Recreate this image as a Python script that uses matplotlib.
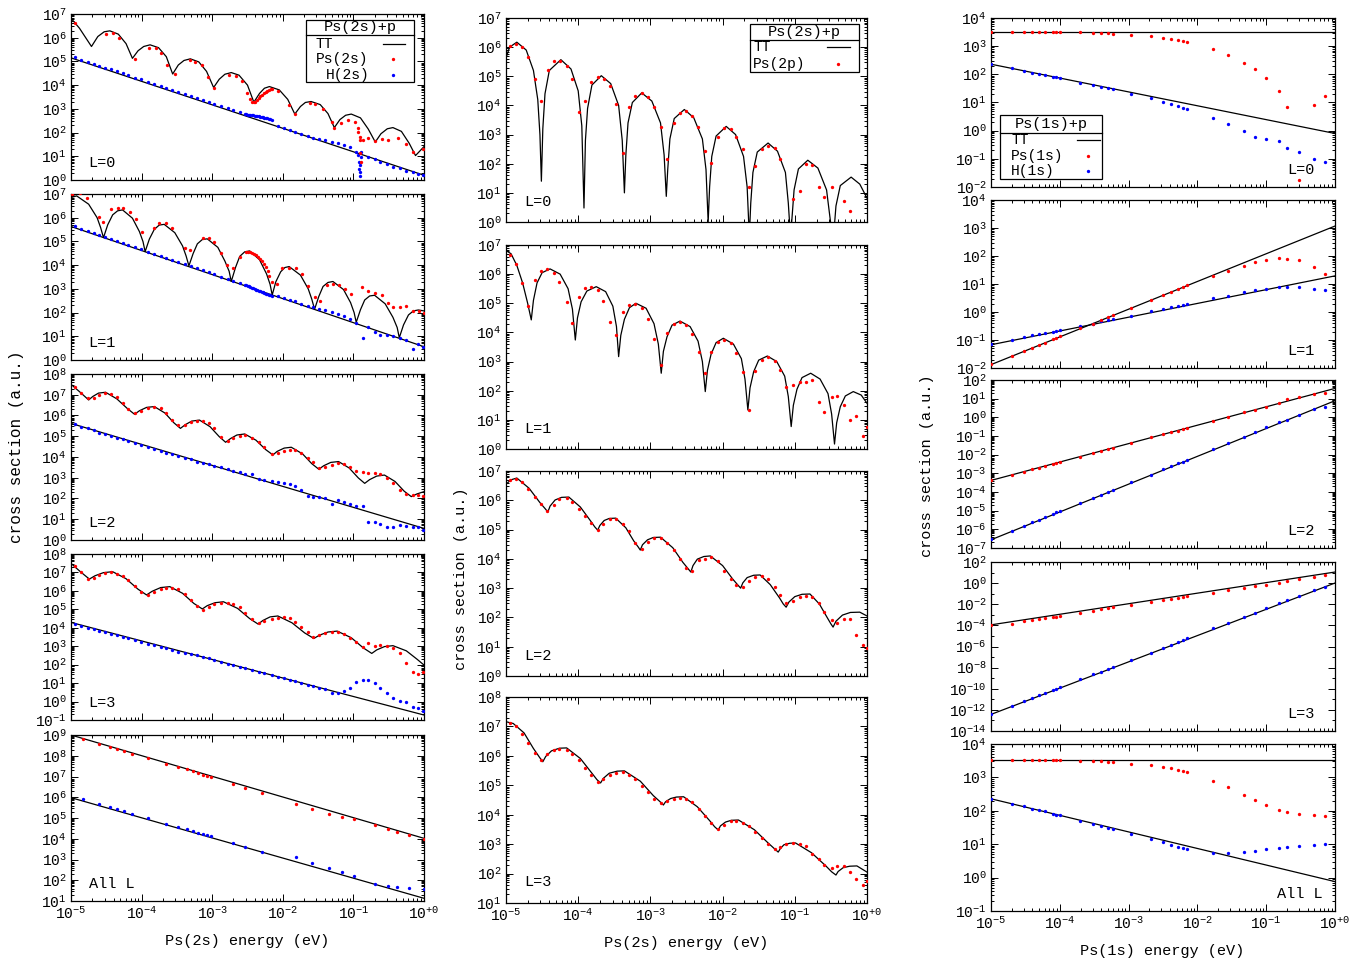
import numpy as np
import matplotlib
matplotlib.use('Agg')
import matplotlib.pyplot as plt
from matplotlib.ticker import LogLocator, FuncFormatter, NullFormatter
from matplotlib.patches import Rectangle
from matplotlib.lines import Line2D

plt.rcParams['font.family'] = ['Liberation Mono', 'DejaVu Sans Mono']
plt.rcParams['mathtext.fontset'] = 'custom'
plt.rcParams['mathtext.rm'] = 'Liberation Mono'
plt.rcParams['mathtext.it'] = 'Liberation Mono'
plt.rcParams['mathtext.bf'] = 'Liberation Mono'

# ---------------- data (log10 of energy in eV, log10 of cross section) ----------------
# left column, Ps(2s)+p
grid_l = [-4.95, -4.86, -4.76, -4.68, -4.60, -4.52, -4.43, -4.35, -4.27, -4.19,
          -4.09, -4.01, -3.91, -3.82, -3.73, -3.65, -3.57, -3.48, -3.39, -3.30,
          -3.22, -3.13, -3.05, -2.97, -2.87, -2.78, -2.70, -2.61, -2.53, -2.43,
          -2.34, -2.26, -2.16, -2.07, -1.99, -1.90, -1.83, -1.74, -1.64, -1.57,
          -1.49, -1.40, -1.30, -1.22, -1.14, -1.05, -0.97, -0.87, -0.79, -0.70,
          -0.62, -0.53, -0.44, -0.34, -0.25, -0.16, -0.09, -0.01]
cluster_l = [-2.54, -2.52, -2.50, -2.48, -2.46, -2.44, -2.42, -2.40, -2.38, -2.36,
             -2.34, -2.32, -2.30, -2.28, -2.26, -2.24, -2.22, -2.20, -2.18, -2.16]

tt0_l_E = [-5.00, -4.88, -4.71, -4.62, -4.53, -4.45, -4.33, -4.22, -4.13, -4.05,
           -3.97, -3.88, -3.76, -3.65, -3.56, -3.48, -3.40, -3.31, -3.19, -3.08,
           -2.98, -2.90, -2.82, -2.73, -2.62, -2.50, -2.41, -2.33, -2.26, -2.19,
           -2.05, -1.93, -1.83, -1.75, -1.68, -1.60, -1.47, -1.36, -1.27, -1.19,
           -1.11, -1.03, -0.90, -0.79, -0.69, -0.61, -0.52, -0.44, -0.32, -0.21,
           -0.12, -0.05, 0.00]
tt0_l_S = [6.82, 6.40, 5.63, 6.05, 6.25, 6.29, 6.15, 5.75, 5.13, 5.45,
           5.63, 5.70, 5.58, 5.20, 4.47, 4.85, 5.04, 5.11, 4.98, 4.58,
           3.90, 4.25, 4.46, 4.53, 4.42, 4.00, 3.28, 3.65, 3.87, 3.94,
           3.80, 3.40, 2.78, 3.10, 3.27, 3.31, 3.18, 2.80, 2.21, 2.55,
           2.73, 2.78, 2.62, 2.15, 1.60, 1.95, 2.16, 2.21, 2.05, 1.55,
           1.03, 1.25, 1.41]
line0_l_E = [-5.0, 0.0]
line0_l_S = [5.15, 0.20]
ps0_l_E = [-4.95, -4.50, -4.41, -4.32, -4.10, -3.89, -3.80, -3.72, -3.64, -3.53,
           -3.32, -3.24, -3.14, -3.06, -2.97, -2.76, -2.66, -2.58, -2.51, -2.46,
           -2.43, -2.41, -2.39, -2.36, -2.34, -2.32, -2.29, -2.27, -2.24, -2.22,
           -2.20, -2.17, -2.15, -2.07, -1.91, -1.83, -1.62, -1.54, -1.43, -1.31,
           -1.27, -1.17, -1.08, -0.98, -0.94, -0.93, -0.91, -0.90, -0.90, -0.89,
           -0.86, -0.79, -0.70, -0.60, -0.51, -0.37, -0.25, -0.16, -0.01]
ps0_l_S = [6.64, 6.15, 6.19, 5.98, 5.11, 5.56, 5.56, 5.34, 4.85, 4.46,
           5.06, 4.99, 4.85, 4.36, 3.90, 4.43, 4.40, 4.18, 3.66, 3.42,
           3.31, 3.28, 3.31, 3.37, 3.45, 3.54, 3.60, 3.67, 3.71, 3.76,
           3.80, 3.83, 3.84, 3.76, 3.16, 2.80, 3.26, 3.21, 3.00, 2.46,
           2.21, 2.39, 2.53, 2.43, 2.18, 2.01, 1.83, 1.69, 1.13, 0.77,
           1.69, 1.76, 1.65, 1.73, 1.69, 1.76, 1.51, 1.20, 1.31]
h0_l_E = grid_l[:28] + cluster_l + [-2.07, -1.99, -1.90, -1.83, -1.74, -1.64, -1.57,
         -1.49, -1.40, -1.30, -1.22, -1.14, -1.05, -0.97,
         -0.93, -0.92, -0.915, -0.91, -0.905, -0.90, -0.895, -0.89,
         -0.79, -0.70, -0.62, -0.53, -0.44, -0.34, -0.25, -0.16, -0.09, -0.01]
h0_l_S = [5.17, 5.08, 4.98, 4.90, 4.82, 4.74, 4.66, 4.58, 4.50, 4.42,
          4.32, 4.24, 4.14, 4.05, 3.96, 3.88, 3.80, 3.72, 3.63, 3.54,
          3.46, 3.37, 3.29, 3.21, 3.11, 3.02, 2.94, 2.85,
          2.78, 2.77, 2.76, 2.75, 2.74, 2.73, 2.72, 2.71, 2.70, 2.69,
          2.68, 2.67, 2.66, 2.64, 2.63, 2.61, 2.60, 2.58, 2.56, 2.54,
          2.29, 2.20, 2.11, 2.04, 1.95, 1.85, 1.78, 1.73, 1.67, 1.60,
          1.54, 1.46, 1.38, 1.16,
          1.05, 0.75, 0.45, 0.15, 0.35, 0.65, 0.95, 1.20,
          0.98, 0.89, 0.77, 0.66, 0.56, 0.49, 0.39, 0.32, 0.25, 0.21]

tt1_l_E = [-5.00, -4.92, -4.75, -4.63, -4.58, -4.54,
           -4.48, -4.41, -4.34, -4.27, -4.13, -4.03, -3.98, -3.95,
           -3.89, -3.82, -3.75, -3.68, -3.53, -3.42, -3.37, -3.33,
           -3.27, -3.21, -3.14, -3.07, -2.92, -2.82, -2.76, -2.73,
           -2.67, -2.61, -2.54, -2.47, -2.33, -2.23, -2.18, -2.15,
           -2.10, -2.03, -1.97, -1.91, -1.75, -1.64, -1.59, -1.55,
           -1.49, -1.43, -1.36, -1.29, -1.14, -1.04, -0.99, -0.96,
           -0.90, -0.84, -0.77, -0.70, -0.55, -0.44, -0.38, -0.35,
           -0.29, -0.22, -0.15, -0.08, 0.00]
tt1_l_S = [6.85, 6.92, 6.57, 6.00, 5.58, 5.16,
           5.70, 6.12, 6.29, 6.33, 5.98, 5.41, 4.99, 4.57,
           5.10, 5.51, 5.69, 5.72, 5.37, 4.81, 4.39, 3.97,
           4.49, 4.90, 5.08, 5.11, 4.75, 4.17, 3.74, 3.31,
           3.90, 4.37, 4.56, 4.60, 4.23, 3.63, 3.19, 2.74,
           3.29, 3.72, 3.90, 3.94, 3.58, 3.00, 2.57, 2.14,
           2.68, 3.10, 3.27, 3.31, 2.97, 2.42, 2.00, 1.59,
           2.12, 2.53, 2.70, 2.73, 2.37, 1.80, 1.37, 0.94,
           1.48, 1.90, 2.07, 2.11, 2.07]
line1_l_E = [-5.0, 0.0]
line1_l_S = [5.63, 0.56]
ps1_l_E = [-4.98, -4.87, -4.77, -4.61, -4.55, -4.43, -4.34, -4.26, -4.17, -4.08,
           -4.00, -3.83, -3.75, -3.66, -3.57, -3.39, -3.31, -3.13, -3.05, -2.98,
           -2.87, -2.79, -2.70, -2.61, -2.52, -2.49, -2.46, -2.43, -2.41, -2.38,
           -2.35, -2.32, -2.29, -2.26, -2.24, -2.21, -2.19, -2.16, -2.08, -2.01,
           -1.91, -1.82, -1.73, -1.64, -1.55, -1.47, -1.38, -1.29, -1.20, -1.12,
           -1.03, -0.88, -0.79, -0.70, -0.60, -0.51, -0.44, -0.34, -0.26, -0.16,
           -0.07, 0.00]
ps1_l_S = [6.99, 7.03, 6.85, 6.05, 5.84, 6.37, 6.40, 6.40, 6.23, 5.95,
           5.41, 5.56, 5.77, 5.79, 5.56, 4.74, 4.64, 5.16, 5.16, 4.99,
           4.50, 4.01, 3.87, 4.36, 4.57, 4.56, 4.54, 4.51, 4.47, 4.42,
           4.35, 4.26, 4.16, 4.05, 3.92, 3.77, 3.56, 3.31, 3.22, 3.87,
           3.90, 3.87, 3.61, 3.12, 2.67, 2.49, 3.16, 3.19, 3.16, 2.98,
           2.77, 3.09, 2.91, 2.84, 2.74, 2.39, 2.22, 2.25, 2.29, 2.07,
           2.07, 1.97]
h1_l_E = grid_l[:28] + cluster_l + grid_l[33:]
h1_l_S = [5.63, 5.54, 5.44, 5.36, 5.27, 5.19, 5.10, 5.02, 4.94, 4.86,
          4.76, 4.68, 4.57, 4.48, 4.39, 4.31, 4.23, 4.14, 4.05, 3.96,
          3.88, 3.78, 3.70, 3.62, 3.52, 3.43, 3.35, 3.26,
          3.17, 3.15, 3.12, 3.10, 3.07, 3.05, 3.02, 3.00, 2.97, 2.95,
          2.92, 2.90, 2.87, 2.85, 2.82, 2.80, 2.77, 2.75, 2.72, 2.70,
          2.71, 2.63, 2.54, 2.47, 2.37, 2.29, 2.24, 2.17, 2.10, 2.02,
          1.94, 1.86, 1.74, 1.55, 0.91, 1.41, 1.20, 1.05, 1.05, 1.03,
          0.94, 0.84, 0.46, 0.66, 0.56]

tt2_l_E = [-5.00, -4.88, -4.75, -4.69, -4.61, -4.51, -4.35, -4.20, -4.10, -4.03,
           -3.93, -3.82, -3.67, -3.54, -3.45, -3.38, -3.29, -3.18, -3.03, -2.90,
           -2.81, -2.74, -2.65, -2.54, -2.38, -2.24, -2.14, -2.08, -1.98, -1.88,
           -1.72, -1.59, -1.49, -1.42, -1.32, -1.21, -1.06, -0.93, -0.84, -0.77,
           -0.67, -0.56, -0.41, -0.28, -0.18, -0.10, 0.00]
tt2_l_S = [7.50, 7.15, 6.75, 6.92, 7.08, 7.12, 6.80, 6.33, 6.06, 6.23,
           6.39, 6.43, 6.12, 5.64, 5.38, 5.56, 5.73, 5.78, 5.46, 4.98,
           4.71, 4.89, 5.06, 5.11, 4.81, 4.35, 4.10, 4.27, 4.43, 4.47,
           4.15, 3.68, 3.41, 3.58, 3.74, 3.78, 3.47, 2.99, 2.73, 2.91,
           3.08, 3.13, 2.82, 2.35, 2.09, 2.22, 2.33]
line2_l_E = [-5.0, 0.0]
line2_l_S = [5.62, 0.56]
ps2_l_S = [7.39, 7.07, 6.83, 6.86, 6.99, 7.07, 7.04, 6.88, 6.62, 6.30,
           6.10, 6.22, 6.38, 6.41, 6.35, 6.14, 5.78, 5.54, 5.54, 5.67,
           5.73, 5.73, 5.62, 5.38, 4.98, 4.77, 4.90, 5.03, 5.06, 4.93,
           4.71, 4.47, 4.13, 4.18, 4.29, 4.34, 4.34, 4.18, 3.97, 3.78,
           3.45, 3.53, 3.61, 3.69, 3.66, 3.53, 3.33, 3.29, 3.21, 3.21,
           3.16, 2.97, 2.73, 2.41, 2.20, 2.17, 2.17, 2.12]
h2_l_S = [5.57, 5.46, 5.38, 5.28, 5.17, 5.09, 5.01, 4.93, 4.87, 4.77,
          4.69, 4.58, 4.47, 4.39, 4.29, 4.21, 4.13, 4.05, 3.97, 3.89,
          3.77, 3.73, 3.65, 3.58, 3.50, 3.42, 3.32, 3.26, 3.20, 3.20,
          2.92, 2.89, 2.84, 2.78, 2.73, 2.68, 2.62, 2.41, 2.12, 2.09,
          2.06, 2.01, 1.72, 1.93, 1.81, 1.72, 1.65, 1.64, 0.85, 0.88,
          0.75, 0.64, 0.61, 0.72, 0.69, 0.64, 0.61, 0.48]

tt3_l_E = [-5.00, -4.87, -4.74, -4.66, -4.54, -4.41, -4.22, -4.05, -3.93, -3.85,
           -3.73, -3.60, -3.42, -3.26, -3.14, -3.07, -2.96, -2.84, -2.64, -2.47,
           -2.35, -2.28, -2.18, -2.07, -1.87, -1.69, -1.56, -1.48, -1.36, -1.23,
           -1.03, -0.86, -0.74, -0.67, -0.56, -0.44, -0.25, -0.10, 0.00]
tt3_l_S = [7.49, 7.05, 6.64, 6.82, 6.99, 7.04, 6.66, 6.09, 5.78, 5.98,
           6.18, 6.23, 5.87, 5.32, 5.02, 5.20, 5.36, 5.41, 5.05, 4.50,
           4.20, 4.40, 4.59, 4.64, 4.27, 3.72, 3.42, 3.60, 3.77, 3.82,
           3.46, 2.91, 2.61, 2.80, 2.98, 3.03, 2.75, 2.30, 1.98]
line3_l_E = [-5.0, 0.0]
line3_l_S = [4.29, -0.73]
ps3_l_S = [7.37, 7.01, 6.64, 6.72, 6.86, 6.97, 7.01, 6.93, 6.81, 6.57,
           6.28, 5.96, 5.78, 5.96, 6.10, 6.17, 6.17, 6.08, 5.85, 5.50,
           5.20, 4.96, 5.14, 5.29, 5.36, 5.36, 5.29, 5.11, 4.78, 4.47,
           4.24, 4.37, 4.47, 4.55, 4.56, 4.51, 4.33, 4.06, 3.75, 3.52,
           3.61, 3.70, 3.75, 3.75, 3.64, 3.46, 3.24, 2.97, 3.15, 3.03,
           3.06, 3.01, 2.88, 2.61, 2.07, 1.58, 1.47, 1.58]
h3_l_S = [4.18, 4.09, 4.00, 3.92, 3.84, 3.75, 3.67, 3.59, 3.50, 3.42,
          3.33, 3.24, 3.14, 3.05, 2.97, 2.88, 2.80, 2.71, 2.62, 2.58,
          2.50, 2.42, 2.34, 2.25, 2.16, 2.06, 1.98, 1.89, 1.81, 1.71,
          1.62, 1.54, 1.44, 1.35, 1.27, 1.18, 1.11, 1.02, 0.92, 0.85,
          0.76, 0.67, 0.44, 0.48, 0.59, 0.75, 1.04, 1.16, 1.16, 1.02,
          0.71, 0.44, 0.21, 0.03, -0.05, -0.28, -0.37, -0.50]

all_l_E = [-4.83, -4.61, -4.45, -4.35, -4.25, -4.13, -3.91, -3.65, -3.48, -3.36,
           -3.27, -3.20, -3.13, -3.08, -3.02, -2.70, -2.53, -2.30, -1.81, -1.59,
           -1.34, -1.16, -0.99, -0.69, -0.51, -0.38, -0.21, 0.00]
all_ps_l_S = [8.79, 8.57, 8.44, 8.33, 8.25, 8.10, 7.88, 7.62, 7.46, 7.35,
              7.25, 7.17, 7.09, 7.04, 6.98, 6.64, 6.46, 6.20, 5.69, 5.43,
              5.19, 5.06, 4.95, 4.66, 4.49, 4.34, 4.20, 3.97]
all_h_l_S = [5.92, 5.67, 5.55, 5.43, 5.34, 5.19, 4.98, 4.73, 4.57, 4.45,
             4.36, 4.29, 4.23, 4.18, 4.12, 3.80, 3.62, 3.38, 3.12, 2.85,
             2.57, 2.41, 2.20, 1.82, 1.72, 1.69, 1.63, 1.58]
all_line_E = [-5.0, 0.0]
all_ps_line_S = [9.00, 4.02]
all_h_line_S = [5.98, 1.13]

# middle column, Ps(2s)+p -> Ps(2p)
grid_m = [-4.95, -4.86, -4.78, -4.69, -4.60, -4.52, -4.43, -4.34, -4.26, -4.16,
          -4.08, -3.99, -3.90, -3.82, -3.73, -3.65, -3.56, -3.47, -3.38, -3.30,
          -3.21, -3.12, -3.04, -2.95, -2.86, -2.77, -2.68, -2.59, -2.51, -2.43,
          -2.33, -2.24, -2.16, -2.07, -1.98, -1.89, -1.81, -1.72, -1.63, -1.55,
          -1.46, -1.37, -1.28, -1.20, -1.12, -1.03, -0.93, -0.85, -0.76, -0.67,
          -0.59, -0.49, -0.41, -0.32, -0.23, -0.15, -0.06, 0.00]

tt0_m_E = [-5.00, -4.95, -4.85, -4.72, -4.62, -4.56, -4.53, -4.51,
           -4.49, -4.46, -4.40, -4.24, -4.10, -4.00, -3.95, -3.92,
           -3.90, -3.87, -3.81, -3.68, -3.55, -3.44, -3.39, -3.36,
           -3.34, -3.31, -3.25, -3.12, -2.98, -2.86, -2.81, -2.78,
           -2.76, -2.73, -2.67, -2.53, -2.40, -2.28, -2.23, -2.20,
           -2.18, -2.15, -2.09, -1.95, -1.82, -1.71, -1.66, -1.63,
           -1.61, -1.58, -1.52, -1.37, -1.24, -1.13, -1.09, -1.06,
           -1.04, -1.01, -0.95, -0.82, -0.68, -0.56, -0.51, -0.48,
           -0.46, -0.43, -0.37, -0.22, -0.10, 0.00]
tt0_m_S = [5.63, 6.00, 6.17, 5.90, 5.20, 4.20, 3.00, 1.40,
           3.20, 4.40, 5.20, 5.57, 5.25, 4.50, 3.30, 0.48,
           2.80, 3.90, 4.70, 5.02, 4.75, 4.00, 2.80, 1.00,
           2.30, 3.40, 4.10, 4.43, 4.15, 3.40, 2.30, 0.88,
           1.80, 2.85, 3.55, 3.86, 3.58, 2.85, 1.80, 0.00,
           1.20, 2.25, 2.95, 3.28, 3.00, 2.25, 1.20, -0.50,
           0.65, 1.70, 2.40, 2.71, 2.43, 1.70, 0.65, -0.50,
           0.10, 1.10, 1.82, 2.12, 1.85, 1.10, 0.10, -0.50,
           -0.40, 0.55, 1.25, 1.54, 1.30, 0.82]
p0_m_E = [-4.95, -4.86, -4.78, -4.69, -4.60, -4.52, -4.42, -4.33, -4.25, -4.16,
          -4.08, -3.99, -3.90, -3.82, -3.73, -3.64, -3.56, -3.47, -3.38, -3.30,
          -3.21, -3.12, -3.03, -2.95, -2.85, -2.77, -2.68, -2.59, -2.51, -2.43,
          -2.34, -2.24, -2.16, -2.07, -1.98, -1.89, -1.81, -1.72, -1.64, -1.55,
          -1.46, -1.37, -1.28, -1.20, -1.03, -0.93, -0.85, -0.76, -0.67, -0.59,
          -0.49, -0.32, -0.23]
p0_m_S = [6.03, 6.12, 6.00, 5.66, 4.92, 4.14, 5.22, 5.51, 5.54, 5.37,
          4.92, 3.79, 4.14, 4.79, 4.97, 4.92, 4.65, 4.05, 2.38, 3.94,
          4.31, 4.41, 4.30, 3.96, 3.26, 2.16, 3.40, 3.74, 3.80, 3.65,
          3.27, 2.45, 2.03, 2.93, 3.23, 3.20, 2.91, 2.51, 1.19, 1.92,
          2.49, 2.62, 2.55, 2.17, 0.80, 1.05, 2.00, 1.97, 1.19, 0.85,
          1.19, 0.73, 0.37]

tt1_m_E = [-5.00, -4.93, -4.85, -4.77, -4.70, -4.65,
           -4.62, -4.57, -4.50, -4.39, -4.25, -4.14, -4.08, -4.04,
           -4.01, -3.96, -3.88, -3.75, -3.62, -3.52, -3.47, -3.44,
           -3.41, -3.36, -3.29, -3.20, -3.06, -2.95, -2.89, -2.85,
           -2.82, -2.77, -2.70, -2.59, -2.45, -2.34, -2.28, -2.24,
           -2.21, -2.16, -2.09, -1.99, -1.85, -1.74, -1.69, -1.65,
           -1.62, -1.57, -1.50, -1.38, -1.25, -1.14, -1.09, -1.05,
           -1.02, -0.97, -0.90, -0.78, -0.65, -0.54, -0.49, -0.45,
           -0.42, -0.37, -0.30, -0.19, -0.08, 0.00]
tt1_m_S = [6.81, 6.70, 6.30, 5.70, 5.00, 4.43,
           5.10, 5.70, 6.05, 6.18, 6.00, 5.50, 4.80, 3.74,
           4.50, 5.05, 5.42, 5.57, 5.40, 4.90, 4.20, 3.17,
           3.90, 4.45, 4.85, 5.00, 4.83, 4.30, 3.60, 2.60,
           3.35, 3.85, 4.25, 4.39, 4.20, 3.70, 3.00, 1.97,
           2.70, 3.25, 3.65, 3.80, 3.60, 3.10, 2.40, 1.34,
           2.10, 2.65, 3.05, 3.19, 3.00, 2.50, 1.80, 0.77,
           1.50, 2.05, 2.45, 2.60, 2.40, 1.90, 1.20, 0.17,
           0.90, 1.45, 1.82, 1.97, 1.85, 1.57]
p1_m_S = [6.66, 6.34, 5.69, 4.91, 5.80, 6.12, 6.19, 6.05, 5.74, 5.06,
          4.31, 5.23, 5.51, 5.57, 5.46, 5.09, 4.37, 3.91, 4.70, 4.94,
          4.98, 4.83, 4.46, 3.76, 2.88, 3.97, 4.28, 4.35, 4.26, 3.95,
          3.34, 2.60, 3.34, 3.66, 3.74, 3.63, 3.31, 2.65, 1.34, 2.69,
          3.05, 3.14, 3.02, 2.71, 2.14, 2.20, 2.31, 2.31, 2.37, 1.62,
          1.28, 1.77, 1.83, 1.52, 1.00, 1.13, 0.45, 0.74]

tt2_m_E = [-5.00, -4.93, -4.85, -4.68, -4.53, -4.46, -4.42,
           -4.39, -4.32, -4.23, -4.13, -3.97, -3.83, -3.77, -3.73,
           -3.70, -3.64, -3.57, -3.48, -3.34, -3.23, -3.17, -3.14,
           -3.11, -3.04, -2.96, -2.86, -2.69, -2.55, -2.48, -2.44,
           -2.41, -2.35, -2.26, -2.17, -2.00, -1.86, -1.79, -1.75,
           -1.72, -1.66, -1.57, -1.48, -1.34, -1.21, -1.16, -1.12,
           -1.08, -1.00, -0.90, -0.79, -0.66, -0.55, -0.50, -0.47,
           -0.43, -0.34, -0.23, -0.10, 0.00]
tt2_m_S = [6.55, 6.70, 6.76, 6.41, 5.92, 5.72, 5.60,
           5.80, 6.01, 6.10, 6.11, 5.77, 5.30, 5.09, 4.98,
           5.14, 5.31, 5.38, 5.39, 5.06, 4.61, 4.41, 4.30,
           4.48, 4.65, 4.73, 4.74, 4.38, 3.88, 3.67, 3.55,
           3.77, 3.99, 4.08, 4.10, 3.77, 3.31, 3.11, 3.00,
           3.18, 3.36, 3.44, 3.45, 3.12, 2.66, 2.46, 2.35,
           2.53, 2.71, 2.79, 2.80, 2.46, 1.99, 1.78, 1.67,
           1.87, 2.08, 2.17, 2.18, 2.05]
p2_m_S = [6.68, 6.74, 6.62, 6.40, 6.12, 5.88, 5.65, 5.85, 6.05, 6.08,
          5.93, 5.70, 5.45, 5.22, 5.00, 5.20, 5.35, 5.36, 5.20, 4.95,
          4.55, 4.35, 4.58, 4.70, 4.70, 4.55, 4.30, 3.98, 3.70, 3.60,
          3.95, 4.00, 4.05, 3.92, 3.60, 3.32, 3.10, 3.05, 3.25, 3.38,
          3.40, 3.30, 3.05, 2.75, 2.50, 2.55, 2.70, 2.72, 2.70, 2.50,
          2.20, 1.90, 1.80, 1.95, 1.95, 1.40, 1.05, 0.95]

tt3_m_E = [-5.00, -4.90, -4.75, -4.62, -4.53, -4.49,
           -4.45, -4.37, -4.26, -4.16, -3.97, -3.81, -3.74, -3.69,
           -3.65, -3.57, -3.46, -3.36, -3.14, -2.96, -2.87, -2.82,
           -2.79, -2.72, -2.64, -2.54, -2.35, -2.18, -2.11, -2.06,
           -2.03, -1.96, -1.88, -1.78, -1.56, -1.37, -1.28, -1.23,
           -1.20, -1.15, -1.07, -0.99, -0.77, -0.57, -0.49, -0.43,
           -0.40, -0.33, -0.24, -0.14, 0.00]
tt3_m_S = [7.16, 7.10, 6.78, 6.25, 5.93, 5.80,
           5.98, 6.17, 6.26, 6.27, 5.91, 5.41, 5.19, 5.08,
           5.24, 5.41, 5.48, 5.49, 5.14, 4.65, 4.45, 4.33,
           4.44, 4.55, 4.60, 4.61, 4.27, 3.80, 3.59, 3.48,
           3.62, 3.75, 3.81, 3.82, 3.49, 3.04, 2.84, 2.73,
           2.85, 2.98, 3.03, 3.04, 2.71, 2.26, 2.06, 1.95,
           2.07, 2.20, 2.25, 2.26, 2.05]
p3_m_S = [7.10, 7.00, 6.75, 6.45, 6.10, 5.85, 6.05, 6.20, 6.22, 6.20,
          6.05, 5.85, 5.60, 5.35, 5.12, 5.20, 5.35, 5.42, 5.45, 5.35,
          5.20, 4.98, 4.78, 4.55, 4.40, 4.45, 4.55, 4.58, 4.55, 4.42,
          4.18, 3.95, 3.72, 3.50, 3.65, 3.78, 3.80, 3.72, 3.60, 3.40,
          3.20, 3.00, 2.85, 2.90, 3.00, 3.05, 3.00, 2.92, 2.65, 2.50,
          2.30, 2.20, 2.25, 2.25, 2.05, 1.80, 1.60, 1.75]

# right column, Ps(1s)+p
grid_r = [-5.00, -4.70, -4.52, -4.40, -4.30, -4.22, -4.10, -4.05, -4.00, -3.70,
          -3.52, -3.40, -3.30, -3.22, -2.96, -2.68, -2.50, -2.38, -2.28, -2.21,
          -2.15, -1.77, -1.56, -1.32, -1.17, -1.00, -0.82, -0.70, -0.52, -0.31,
          -0.15]
line_r_E = [-5.0, 0.0]
tt_ps0_r = [3.50, 3.50]
tt_h0_r = [2.36, -0.10]
ps0_r = [3.52, 3.52, 3.52, 3.52, 3.52, 3.52, 3.50, 3.50, 3.50, 3.49,
         3.47, 3.46, 3.45, 3.44, 3.41, 3.35, 3.30, 3.25, 3.22, 3.19,
         3.14, 2.90, 2.69, 2.40, 2.18, 1.86, 1.41, 0.85, -1.76, 0.91, 1.24]
h0_r = [2.36, 2.22, 2.13, 2.06, 2.02, 1.97, 1.92, 1.90, 1.88, 1.71,
        1.63, 1.56, 1.51, 1.47, 1.30, 1.15, 1.03, 0.95, 0.88, 0.82,
        0.76, 0.44, 0.25, -0.01, -0.23, -0.31, -0.36, -0.63, -0.75, -1.02, -1.13]
tt_ps1_r = [-1.88, 3.07]
tt_h1_r = [-1.17, 1.29]
ps1_r = [-1.86, -1.56, -1.40, -1.29, -1.19, -1.11, -0.96, -0.92, -0.87, -0.57,
         -0.42, -0.30, -0.18, -0.10, 0.16, 0.44, 0.59, 0.71, 0.82, 0.89,
         0.95, 1.29, 1.48, 1.65, 1.77, 1.85, 1.92, 1.89, 1.84, 1.62, 1.36]
h1_r = [-1.14, -0.99, -0.90, -0.83, -0.80, -0.76, -0.70, -0.68, -0.66, -0.51,
        -0.42, -0.33, -0.28, -0.24, -0.13, 0.02, 0.10, 0.18, 0.20, 0.24,
        0.28, 0.50, 0.58, 0.70, 0.77, 0.83, 0.89, 0.91, 0.88, 0.82, 0.77]
tt_ps2_r = [-3.38, 1.55]
tt_h2_r = [-6.56, 0.89]
ps2_r = [-3.35, -3.10, -2.94, -2.76, -2.69, -2.62, -2.49, -2.44, -2.38, -2.10,
         -1.92, -1.78, -1.71, -1.62, -1.35, -1.08, -0.91, -0.80, -0.71, -0.62,
         -0.55, -0.17, 0.04, 0.27, 0.40, 0.57, 0.77, 0.97, 1.09, 1.23, 1.32]
h2_r = [-6.52, -6.07, -5.81, -5.63, -5.49, -5.36, -5.18, -5.09, -5.02, -4.60,
        -4.31, -4.15, -3.99, -3.88, -3.49, -3.08, -2.78, -2.63, -2.47, -2.37,
        -2.26, -1.69, -1.39, -1.03, -0.80, -0.53, -0.26, -0.14, 0.13, 0.43, 0.54]
tt_ps3_r = [-3.95, 1.05]
tt_h3_r = [-12.43, 0.01]
ps3_r = [-4.01, -3.85, -3.63, -3.47, -3.41, -3.32, -3.19, -3.16, -3.09, -2.84,
         -2.62, -2.46, -2.37, -2.30, -2.11, -1.83, -1.64, -1.48, -1.42, -1.32,
         -1.26, -0.91, -0.69, -0.47, -0.31, -0.15, 0.01, 0.16, 0.39, 0.58, 0.73]
h3_r = [-12.37, -11.61, -11.13, -10.85, -10.59, -10.37, -10.12, -9.99, -9.87, -9.11,
        -8.63, -8.38, -8.13, -7.97, -7.27, -6.61, -6.16, -5.85, -5.59, -5.41,
        -5.22, -4.27, -3.79, -3.16, -2.81, -2.37, -1.92, -1.64, -1.20, -0.69, -0.37]
tt_psA_r = [3.53, 3.53]
tt_hA_r = [2.36, -0.12]
psA_r = [3.53, 3.53, 3.53, 3.53, 3.53, 3.53, 3.52, 3.52, 3.52, 3.50,
         3.48, 3.48, 3.47, 3.45, 3.41, 3.36, 3.31, 3.27, 3.23, 3.20,
         3.15, 2.89, 2.71, 2.48, 2.31, 2.16, 2.03, 1.96, 1.91, 1.86, 1.84]
hA_r = [2.35, 2.20, 2.13, 2.06, 2.02, 1.98, 1.91, 1.88, 1.86, 1.70,
        1.61, 1.54, 1.49, 1.45, 1.30, 1.15, 1.06, 0.98, 0.93, 0.88,
        0.86, 0.73, 0.73, 0.76, 0.79, 0.85, 0.90, 0.91, 0.95, 0.98, 1.00]

# ---------------- figure ----------------
W, H = 1355, 963
fig = plt.figure(figsize=(W / 100, H / 100), dpi=100)
RED, BLUE = '#ff0000', '#0000ff'


def pw(v):
    return 10.0 ** np.asarray(v, dtype=float)


def box(x0, x1, y0, y1):
    return fig.add_axes([x0 / W, 1 - y1 / H, (x1 - x0) / W, (y1 - y0) / H])


def yfmt(v, pos):
    return r'$10^{%d}$' % int(round(np.log10(v)))


def xfmt(v, pos):
    e = int(round(np.log10(v)))
    return r'$10^{+0}$' if e == 0 else r'$10^{%d}$' % e


def setup(ax, ylo, yhi, xlab=False, step=1):
    ax.set_xscale('log')
    ax.set_yscale('log')
    ax.set_xlim(1e-5, 1)
    ax.set_ylim(10.0 ** ylo, 10.0 ** yhi)
    ax.xaxis.set_major_locator(LogLocator(base=10, numticks=20))
    ax.xaxis.set_minor_locator(LogLocator(base=10, subs=np.arange(2, 10), numticks=20))
    if step == 2:
        ax.yaxis.set_major_locator(LogLocator(base=100, numticks=20))
        ax.yaxis.set_minor_locator(LogLocator(base=10, subs=(1.0,), numticks=40))
    else:
        ax.yaxis.set_major_locator(LogLocator(base=10, numticks=30))
        ax.yaxis.set_minor_locator(LogLocator(base=10, subs=np.arange(2, 10), numticks=30))
    ax.yaxis.set_major_formatter(FuncFormatter(yfmt))
    ax.yaxis.set_minor_formatter(NullFormatter())
    ax.xaxis.set_minor_formatter(NullFormatter())
    if xlab:
        ax.xaxis.set_major_formatter(FuncFormatter(xfmt))
    else:
        ax.xaxis.set_major_formatter(NullFormatter())
    ax.tick_params(which='both', direction='in', top=True, right=True,
                   labelsize=10.5, width=0.7, pad=3)
    ax.tick_params(which='major', length=5)
    ax.tick_params(which='minor', length=2.5)
    for s in ax.spines.values():
        s.set_linewidth(0.9)


def tt(ax, e, s):
    ax.plot(pw(e), pw(s), color='black', lw=0.9, zorder=2)


def dots(ax, e, s, c):
    ax.plot(pw(e), pw(s), ls='none', marker='o', ms=2.4, mew=0, color=c, zorder=3)


def tag(ax, text, right=False, x=None):
    if right:
        ax.text(0.94 if x is None else x, 0.10, text, transform=ax.transAxes,
                ha='right', va='center', fontsize=11)
    else:
        ax.text(0.05, 0.10, text, transform=ax.transAxes, ha='left', va='center', fontsize=11)


# left column
L = [box(71, 424, 14, 180), box(71, 424, 194, 360), box(71, 424, 374, 540),
     box(71, 424, 554, 720), box(71, 424, 735, 901)]
setup(L[0], 0, 7)
tt(L[0], tt0_l_E, tt0_l_S); tt(L[0], line0_l_E, line0_l_S)
dots(L[0], h0_l_E, h0_l_S, BLUE); dots(L[0], ps0_l_E, ps0_l_S, RED)
tag(L[0], 'L=0')
setup(L[1], 0, 7)
tt(L[1], tt1_l_E, tt1_l_S); tt(L[1], line1_l_E, line1_l_S)
dots(L[1], h1_l_E, h1_l_S, BLUE); dots(L[1], ps1_l_E, ps1_l_S, RED)
tag(L[1], 'L=1')
setup(L[2], 0, 8)
tt(L[2], tt2_l_E, tt2_l_S); tt(L[2], line2_l_E, line2_l_S)
dots(L[2], grid_l, h2_l_S, BLUE); dots(L[2], grid_l, ps2_l_S, RED)
tag(L[2], 'L=2')
setup(L[3], -1, 8)
tt(L[3], tt3_l_E, tt3_l_S); tt(L[3], line3_l_E, line3_l_S)
dots(L[3], grid_l, h3_l_S, BLUE); dots(L[3], grid_l, ps3_l_S, RED)
tag(L[3], 'L=3')
setup(L[4], 1, 9, xlab=True)
tt(L[4], all_line_E, all_ps_line_S); tt(L[4], all_line_E, all_h_line_S)
dots(L[4], all_l_E, all_h_l_S, BLUE); dots(L[4], all_l_E, all_ps_l_S, RED)
tag(L[4], 'All L')

# middle column
M = [box(506, 867, 18, 222), box(506, 867, 245, 449), box(506, 867, 471, 676),
     box(506, 867, 697, 903)]
setup(M[0], 0, 7)
tt(M[0], tt0_m_E, tt0_m_S); dots(M[0], p0_m_E, p0_m_S, RED); tag(M[0], 'L=0')
setup(M[1], 0, 7)
tt(M[1], tt1_m_E, tt1_m_S); dots(M[1], grid_m, p1_m_S, RED); tag(M[1], 'L=1')
setup(M[2], 0, 7)
tt(M[2], tt2_m_E, tt2_m_S); dots(M[2], grid_m, p2_m_S, RED); tag(M[2], 'L=2')
setup(M[3], 1, 8, xlab=True)
tt(M[3], tt3_m_E, tt3_m_S); dots(M[3], grid_m, p3_m_S, RED); tag(M[3], 'L=3')

# right column
R = [box(991, 1335, 18, 187), box(991, 1335, 200, 368), box(991, 1335, 380, 548),
     box(991, 1335, 562, 731), box(991, 1335, 744, 911)]
panels_r = [(-2, 4, 1, tt_ps0_r, tt_h0_r, ps0_r, h0_r, 'L=0'),
            (-2, 4, 1, tt_ps1_r, tt_h1_r, ps1_r, h1_r, 'L=1'),
            (-7, 2, 1, tt_ps2_r, tt_h2_r, ps2_r, h2_r, 'L=2'),
            (-14, 2, 2, tt_ps3_r, tt_h3_r, ps3_r, h3_r, 'L=3'),
            (-1, 4, 1, tt_psA_r, tt_hA_r, psA_r, hA_r, 'All L')]
for i, (ax, (lo, hi, st, tp, th, dp, dh, name)) in enumerate(zip(R, panels_r)):
    setup(ax, lo, hi, xlab=(i == 4), step=st)
    tt(ax, line_r_E, tp); tt(ax, line_r_E, th)
    dots(ax, grid_r, dh, BLUE); dots(ax, grid_r, dp, RED)
    tag(ax, name, right=True, x=0.965 if name == 'All L' else 0.94)


# legends drawn in figure pixel units
def fx(x):
    return x / W


def fy(y):
    return 1 - y / H


def legend(x0, x1, y0, y1, yhead, title, rows, sample):
    fig.add_artist(Rectangle((fx(x0), fy(y1)), fx(x1) - fx(x0), fy(y0) - fy(y1),
                             transform=fig.transFigure, facecolor='white',
                             edgecolor='black', lw=0.9, zorder=10))
    fig.add_artist(Line2D([fx(x0), fx(x1)], [fy(yhead)] * 2, transform=fig.transFigure,
                          color='black', lw=0.9, zorder=11))
    fig.text(fx((x0 + x1) / 2), fy((y0 + yhead) / 2), title, ha='center', va='center',
             fontsize=11, zorder=12)
    for text, tx, ty, kind in rows:
        fig.text(fx(tx), fy(ty), text, ha='left', va='center', fontsize=10.5, zorder=12)
        if kind == 'line':
            fig.add_artist(Line2D([fx(sample[0]), fx(sample[1])], [fy(ty)] * 2,
                                  transform=fig.transFigure, color='black', lw=0.9, zorder=12))
        else:
            fig.add_artist(Line2D([fx(sample[2])], [fy(ty)], transform=fig.transFigure,
                                  ls='none', marker='o', ms=2.4, mew=0, color=kind, zorder=12))


legend(306, 414, 20, 82, 35, 'Ps(2s)+p',
       [('TT', 316, 44, 'line'), ('Ps(2s)', 316, 59, RED), ('H(2s)', 326, 75, BLUE)],
       (383, 405, 393))
legend(750, 859, 24, 72, 40, 'Ps(2s)+p',
       [('TT', 753, 47, 'line'), ('Ps(2p)', 753, 64, RED)],
       (827, 850, 838))
legend(1000, 1102, 115, 179, 133, 'Ps(1s)+p',
       [('TT', 1011, 140, 'line'), ('Ps(1s)', 1011, 156, RED), ('H(1s)', 1011, 171, BLUE)],
       (1077, 1100, 1088))

# axis titles
fig.text(fx(17), fy(447), 'cross section (a.u.)', rotation=90, ha='center', va='center', fontsize=11.5)
fig.text(fx(461), fy(579), 'cross section (a.u.)', rotation=90, ha='center', va='center', fontsize=11)
fig.text(fx(927), fy(466), 'cross section (a.u.)', rotation=90, ha='center', va='center', fontsize=11)
fig.text(fx(247), fy(941), 'Ps(2s) energy (eV)', ha='center', va='center', fontsize=11)
fig.text(fx(686), fy(943), 'Ps(2s) energy (eV)', ha='center', va='center', fontsize=11)
fig.text(fx(1162), fy(951), 'Ps(1s) energy (eV)', ha='center', va='center', fontsize=11)

fig.savefig('out.png', dpi=100)
